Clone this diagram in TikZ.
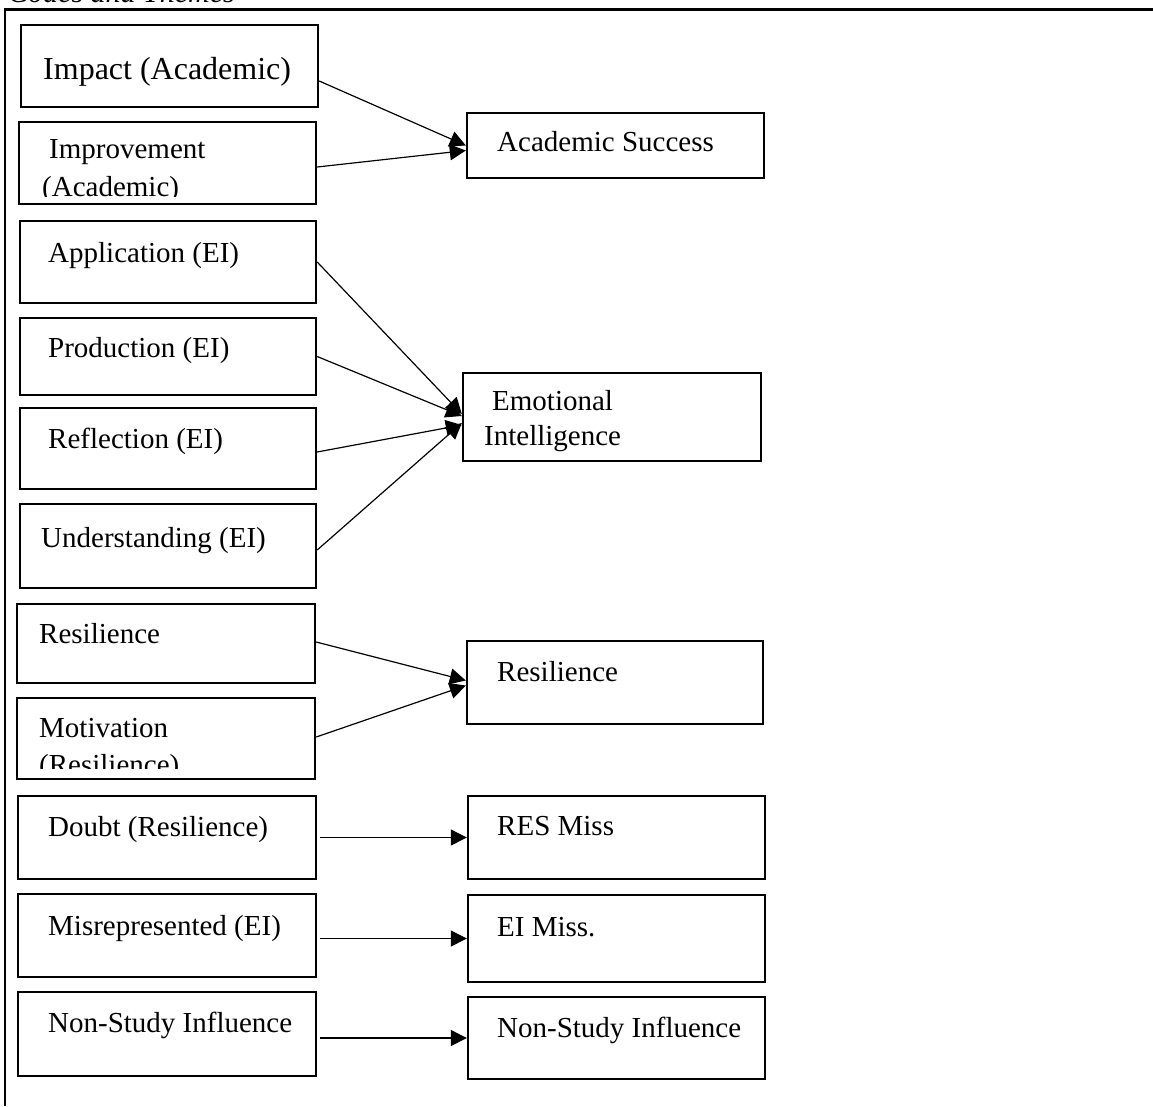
\documentclass[tikz,border=0pt]{standalone}
\usepackage{fontspec}
\setmainfont{Liberation Serif}
\usetikzlibrary{fit,arrows.meta}
\begin{document}
\begin{tikzpicture}[x=1pt,y=-1pt,
  box/.style={draw, line width=2.4pt, inner sep=0pt, rectangle},
  lbl/.style={anchor=base west, inner sep=0pt, font=\fontsize{29}{35}\selectfont},
  conn/.style={line width=1.2pt, -{Triangle[length=16pt,width=16pt]}},
  frame/.style={line width=2.4pt}
]
\useasboundingbox (0,0) rectangle (1153,1106);
\clip (0,0) rectangle (1153,1106);

% title (cut off at the top, as in the source)
\node[anchor=base west, inner sep=0pt, font=\fontsize{30}{36}\selectfont\itshape] (title) at (8,2) {Codes and Themes};

% outer frame (top and left sides)
\coordinate (fl) at (5,9.5);
\coordinate (fr) at (1153,9.5);
\coordinate (fb) at (5,1106);
\draw[frame] (fr) -- (fl) -- (fb);

% left boxes
\node[box, fit={(21,25) (318,107)}] (imp) {};
\node[box, fit={(19,122) (316,204)}] (impr) {};
\node[box, fit={(20,221) (316,303)}] (app) {};
\node[box, fit={(20,318) (316,395)}] (prod) {};
\node[box, fit={(20,408) (316,489)}] (refl) {};
\node[box, fit={(20,504) (316,588)}] (und) {};
\node[box, fit={(17,604) (315,683)}] (resL) {};
\node[box, fit={(17,698) (315,779)}] (mot) {};
\node[box, fit={(18,796) (316,879)}] (doubt) {};
\node[box, fit={(18,894) (316,977)}] (mis) {};
\node[box, fit={(18,992) (316,1076)}] (nsL) {};

% right boxes
\node[box, fit={(467,113) (764,178)}] (acad) {};
\node[box, fit={(463,373) (761,461)}] (ei) {};
\node[box, fit={(467,641) (763,724)}] (resR) {};
\node[box, fit={(468,796) (765,879)}] (resmiss) {};
\node[box, fit={(468,895) (765,982)}] (eimiss) {};
\node[box, fit={(468,997) (765,1079)}] (nsR) {};

% left texts
\node[lbl, font=\fontsize{32}{38}\selectfont] (timp) at (43,79) {Impact (Academic)};
\begin{scope}
  \clip (19,122) rectangle (316,196);
  \node[lbl] (timpr1) at (49,158) {Improvement};
  \node[lbl] (timpr2) at (42,196) {(Academic)};
\end{scope}
\node[lbl] (tapp) at (48,262) {Application (EI)};
\node[lbl] (tprod) at (48,357) {Production (EI)};
\node[lbl] (trefl) at (48,448) {Reflection (EI)};
\node[lbl] (tund) at (41,547) {Understanding (EI)};
\node[lbl] (tresL) at (39,643) {Resilience};
\begin{scope}
  \clip (17,698) rectangle (315,768);
  \node[lbl] (tmot1) at (39,737) {Motivation};
  \node[lbl] (tmot2) at (39,774) {(Resilience)};
\end{scope}
\node[lbl] (tdoubt) at (48,836) {Doubt (Resilience)};
\node[lbl] (tmis) at (48,935) {Misrepresented (EI)};
\node[lbl] (tnsL) at (48,1032) {Non-Study Influence};

% right texts
\node[lbl] (tacad) at (497,151) {Academic Success};
\node[lbl] (tei1) at (492,410) {Emotional};
\node[lbl] (tei2) at (484,445) {Intelligence};
\node[lbl] (tresR) at (497,681) {Resilience};
\node[lbl] (tresmiss) at (497,835) {RES Miss};
\node[lbl] (teimiss) at (497,936) {EI Miss.};
\node[lbl] (tnsR) at (497,1037) {Non-Study Influence};

% connectors
\draw[conn] ([yshift=-15pt]imp.east) -- ([yshift=0pt]acad.west);
\draw[conn] ([yshift=-4pt]impr.east) -- ([yshift=-5pt]acad.west);
\draw[conn] (app.east) -- ([yshift=3pt]ei.west);
\draw[conn] (prod.east) -- ([yshift=1pt]ei.west);
\draw[conn] ([yshift=-3.5pt]refl.east) -- ([yshift=-8pt]ei.west);
\draw[conn] ([yshift=-4pt]und.east) -- ([yshift=-6pt]ei.west);
\draw[conn] ([yshift=1.5pt]resL.east) -- ([yshift=2pt]resR.west);
\draw[conn] ([yshift=1.5pt]mot.east) -- ([yshift=-3pt]resR.west);
\draw[conn] ([xshift=3pt]doubt.east) -- (resmiss.west);
\draw[conn] ([xshift=3pt]mis.east |- eimiss.west) -- (eimiss.west);
\draw[conn] ([xshift=3pt]nsL.east |- nsR.west) -- (nsR.west);
\end{tikzpicture}
\end{document}
